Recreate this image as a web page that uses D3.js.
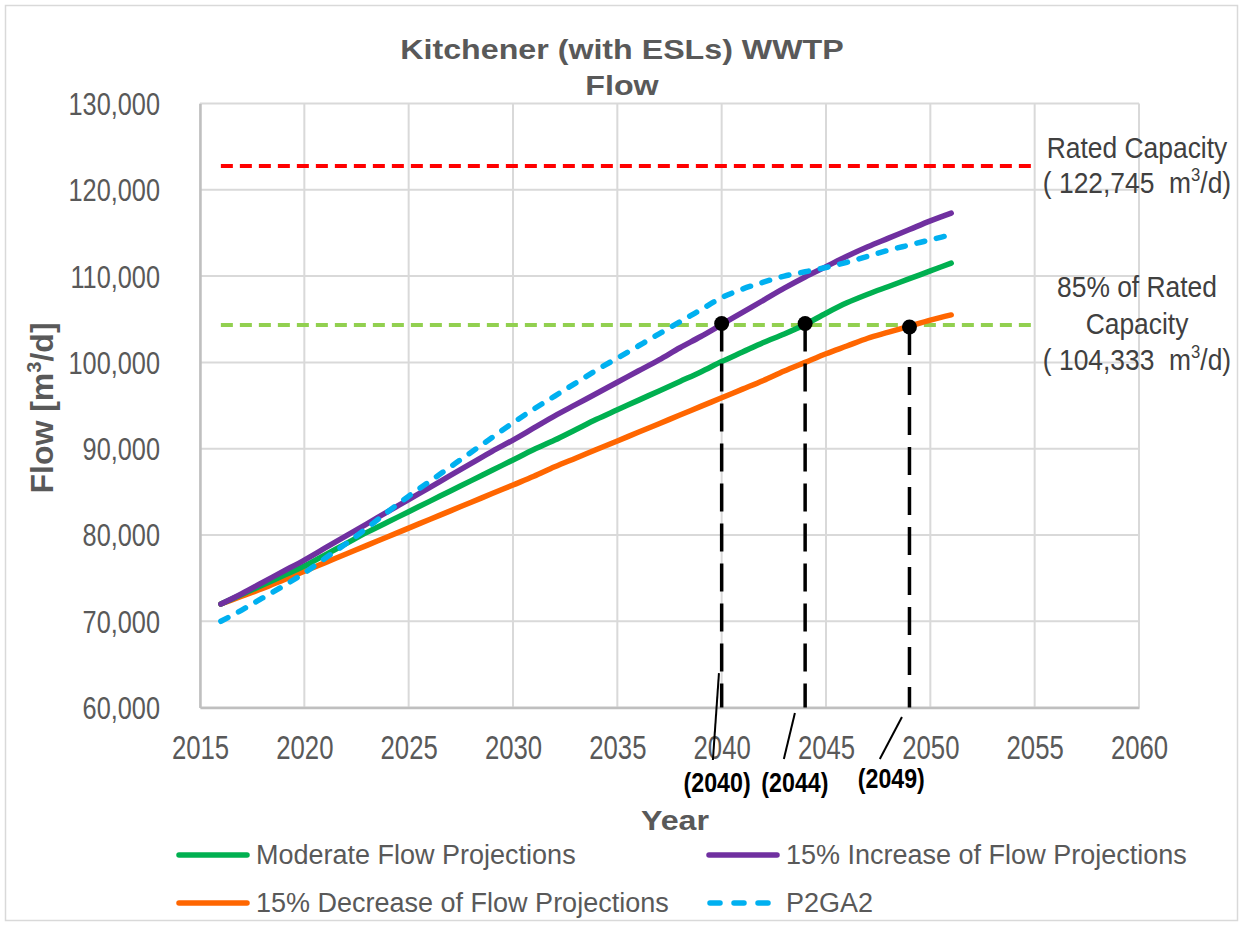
<!DOCTYPE html>
<html>
<head>
<meta charset="utf-8">
<script src="https://cdn.jsdelivr.net/npm/d3@7"></script>
<style>
  html, body { margin: 0; padding: 0; background: #fff; }
  svg text { font-family: "Liberation Sans", Arial, "Helvetica", sans-serif; white-space: pre; }
</style>
</head>
<body>
<svg id="chart" width="1243" height="926"></svg>
<script>
// ---------- data ----------
const years = d3.range(2016, 2052);
const moderate = [72000,73100,74200,75300,76400,77700,79000,80300,81500,82700,83900,85100,86300,87500,88700,89900,91000,92200,93400,94500,95600,96700,97800,98900,100100,101200,102300,103300,104400,105700,106900,107900,108800,109700,110600,111500];
const increase15 = [72000,73200,74500,75800,77100,78500,79900,81300,82700,84100,85500,86900,88300,89700,91000,92400,93800,95100,96400,97700,99000,100300,101700,103000,104400,105800,107200,108600,109900,111100,112300,113400,114400,115400,116400,117300];
const decrease15 = [72000,72900,73800,74800,75800,76800,77800,78800,79800,80800,81800,82800,83800,84800,85800,86800,87900,88900,89900,90900,91900,92900,93900,94900,95900,96900,97900,99000,100000,101000,101900,102800,103500,104200,104900,105500];
const p2ga2 = [70000,71300,72700,74100,75600,77300,79000,80800,82700,84500,86200,87900,89600,91300,93000,94600,96100,97600,99100,100500,101900,103300,104700,106100,107500,108500,109300,110000,110500,111000,111600,112300,113000,113600,114200,114800];

const ratedCapacity = 122745;
const rated85 = 104333;
const capacityLineYears = [2016, 2055];

const xTicks = [2015,2020,2025,2030,2035,2040,2045,2050,2055,2060];
const yTicks = [60000,70000,80000,90000,100000,110000,120000,130000];

const crossYears = [2040, 2044, 2049];
const crossValues = [104500, 104500, 104100];
const crossLabels = ["(2040)", "(2044)", "(2049)"];
const labelYears = [2039.78, 2043.51, 2048.13];
const labelValues = [50220, 50220, 50680];
const leaderLines = [
  [2039.87, 64000, 2039.58, 53930],
  [2043.51, 59370, 2042.98, 54040],
  [2048.64, 58910, 2047.58, 54040]
];

const seriesNames = ["Moderate Flow Projections", "15% Increase of Flow Projections", "15% Decrease of Flow Projections", "P2GA2"];

// ---------- layout ----------
const svg = d3.select("#chart");
const x = d3.scaleLinear().domain([2015, 2060]).range([200, 1139]);
const y = d3.scaleLinear().domain([60000, 130000]).range([707.6, 103.5]);
const grey = "#595959";

// horizontal scale of a text around its own x anchor
function squeeze(sel, k) {
  sel.each(function() {
    const t = d3.select(this);
    const x0 = +(t.attr("x") || 0);
    t.attr("transform", `translate(${x0 * (1 - k)},0) scale(${k},1)`);
  });
}

// outer frame
svg.append("rect").attr("x", 5.5).attr("y", 5.5).attr("width", 1232).attr("height", 915)
  .attr("fill", "#fff").attr("stroke", "#d9d9d9").attr("stroke-width", 1.5);

// grid
const grid = svg.append("g");
grid.selectAll(".vg").data(xTicks).join("line")
  .attr("x1", d => x(d)).attr("x2", d => x(d)).attr("y1", y(130000)).attr("y2", y(60000))
  .attr("stroke", "#d9d9d9").attr("stroke-width", 2);
grid.selectAll(".hg").data(yTicks).join("line")
  .attr("x1", x(2015)).attr("x2", x(2060)).attr("y1", d => y(d)).attr("y2", d => y(d))
  .attr("stroke", "#d9d9d9").attr("stroke-width", 2);

// axes
const xAxis = d3.axisBottom(x).tickValues(xTicks).tickFormat(d3.format("d")).tickSize(0).tickPadding(28);
const gx = svg.append("g").attr("transform", `translate(0,${y(60000)})`).call(xAxis);
gx.select(".domain").attr("stroke", "#bfbfbf").attr("stroke-width", 2.5);
gx.selectAll("text").attr("fill", grey).attr("font-size", 33).attr("dy", "0.71em").call(squeeze, 0.78);

const yAxis = d3.axisLeft(y).tickValues(yTicks).tickFormat(d3.format(",")).tickSize(0).tickPadding(40);
const gy = svg.append("g").attr("transform", `translate(${x(2015)},0)`).call(yAxis);
gy.select(".domain").attr("stroke", "#bfbfbf").attr("stroke-width", 2.5);
gy.selectAll("text").attr("fill", grey).attr("font-size", 30.5).attr("dy", "0.36em").call(squeeze, 0.83);

// capacity lines
svg.append("line").attr("x1", x(capacityLineYears[0])).attr("x2", x(capacityLineYears[1]))
  .attr("y1", y(ratedCapacity)).attr("y2", y(ratedCapacity))
  .attr("stroke", "#ff0000").attr("stroke-width", 4).attr("stroke-dasharray", "12,7");
svg.append("line").attr("x1", x(capacityLineYears[0])).attr("x2", x(capacityLineYears[1]))
  .attr("y1", y(rated85)).attr("y2", y(rated85))
  .attr("stroke", "#92d050").attr("stroke-width", 4).attr("stroke-dasharray", "12,7");

// series
const series = [
  { name: seriesNames[0], values: moderate, color: "#00b050", dash: null },
  { name: seriesNames[1], values: increase15, color: "#7030a0", dash: null },
  { name: seriesNames[2], values: decrease15, color: "#ff6600", dash: null },
  { name: seriesNames[3], values: p2ga2, color: "#00b0f0", dash: "8,12" }
];
const line = d3.line().x((d, i) => x(years[i])).y(d => y(d)).curve(d3.curveMonotoneX);
const drawOrder = [2, 0, 1, 3];
drawOrder.forEach(k => {
  const s = series[k];
  svg.append("path").datum(s.values).attr("d", line)
    .attr("fill", "none").attr("stroke", s.color).attr("stroke-width", 5.5)
    .attr("stroke-linecap", "round").attr("stroke-linejoin", "round")
    .attr("stroke-dasharray", s.dash);
});

// crossing markers
const ann = svg.append("g");
crossYears.forEach((yr, i) => {
  ann.append("line").attr("x1", x(yr)).attr("x2", x(yr)).attr("y1", y(crossValues[i])).attr("y2", y(60000))
    .attr("stroke", "#000").attr("stroke-width", 3.5).attr("stroke-dasharray", "28,12");
  ann.append("circle").attr("cx", x(yr)).attr("cy", y(crossValues[i])).attr("r", 7.5).attr("fill", "#000");
  const L = leaderLines[i];
  ann.append("line").attr("x1", x(L[0])).attr("y1", y(L[1])).attr("x2", x(L[2])).attr("y2", y(L[3]))
    .attr("stroke", "#000").attr("stroke-width", 2);
  ann.append("text").attr("x", x(labelYears[i])).attr("y", y(labelValues[i]))
    .attr("text-anchor", "middle").attr("font-size", 27).attr("font-weight", "bold").attr("fill", "#000")
    .text(crossLabels[i]).call(squeeze, 0.86);
});

// title
const tx = 622;
const title = svg.append("text").attr("x", tx).attr("text-anchor", "middle")
  .attr("font-size", 28).attr("font-weight", "bold").attr("fill", grey);
title.append("tspan").attr("x", tx).attr("y", 59).text("Kitchener (with ESLs) WWTP");
title.append("tspan").attr("x", tx).attr("y", 95).text("Flow");
title.call(squeeze, 1.15);

// axis titles
svg.append("text").attr("x", 675).attr("y", 830).attr("text-anchor", "middle")
  .attr("font-size", 28).attr("font-weight", "bold").attr("fill", grey).text("Year").call(squeeze, 1.15);
const yt = svg.append("text").attr("transform", "translate(53,408) rotate(-90)").attr("text-anchor", "middle")
  .attr("font-size", 32).attr("font-weight", "bold").attr("fill", grey);
yt.append("tspan").text("Flow [m");
yt.append("tspan").attr("font-size", 20).attr("dy", -12).text("3");
yt.append("tspan").attr("dy", 12).text("/d]");

// right annotations
function capLabel(lines, baselines) {
  lines.forEach((ln, i) => {
    const t = svg.append("text").attr("x", 1137).attr("y", baselines[i]).attr("text-anchor", "middle")
      .attr("font-size", 30).attr("fill", "#404040");
    if (Array.isArray(ln)) {
      t.append("tspan").text(ln[0]);
      t.append("tspan").attr("font-size", 19).attr("dy", -12).text("3");
      t.append("tspan").attr("dy", 12).text(ln[1]);
    } else t.text(ln);
    t.call(squeeze, 0.88);
  });
}
capLabel(["Rated Capacity", ["( 122,745  m", "/d)"]], [158, 193]);
capLabel(["85% of Rated", "Capacity", ["( 104,333  m", "/d)"]], [297, 334, 370]);

// legend
const legendPos = [[177, 855], [707, 855], [177, 903], [707, 903]];
series.forEach((s, i) => {
  const [lx, ly] = legendPos[i];
  if (s.dash) {
    svg.append("line").attr("x1", lx + 3).attr("x2", lx + 63).attr("y1", ly).attr("y2", ly)
      .attr("stroke", s.color).attr("stroke-width", 5.5).attr("stroke-linecap", "round")
      .attr("stroke-dasharray", "10,14");
  } else {
    svg.append("line").attr("x1", lx + 2).attr("x2", lx + 70).attr("y1", ly).attr("y2", ly)
      .attr("stroke", s.color).attr("stroke-width", 5.5).attr("stroke-linecap", "round");
  }
  svg.append("text").attr("x", lx + 79).attr("y", ly).attr("dy", "0.35em")
    .attr("font-size", 27).attr("fill", grey).text(s.name);
});
</script>
</body>
</html>
